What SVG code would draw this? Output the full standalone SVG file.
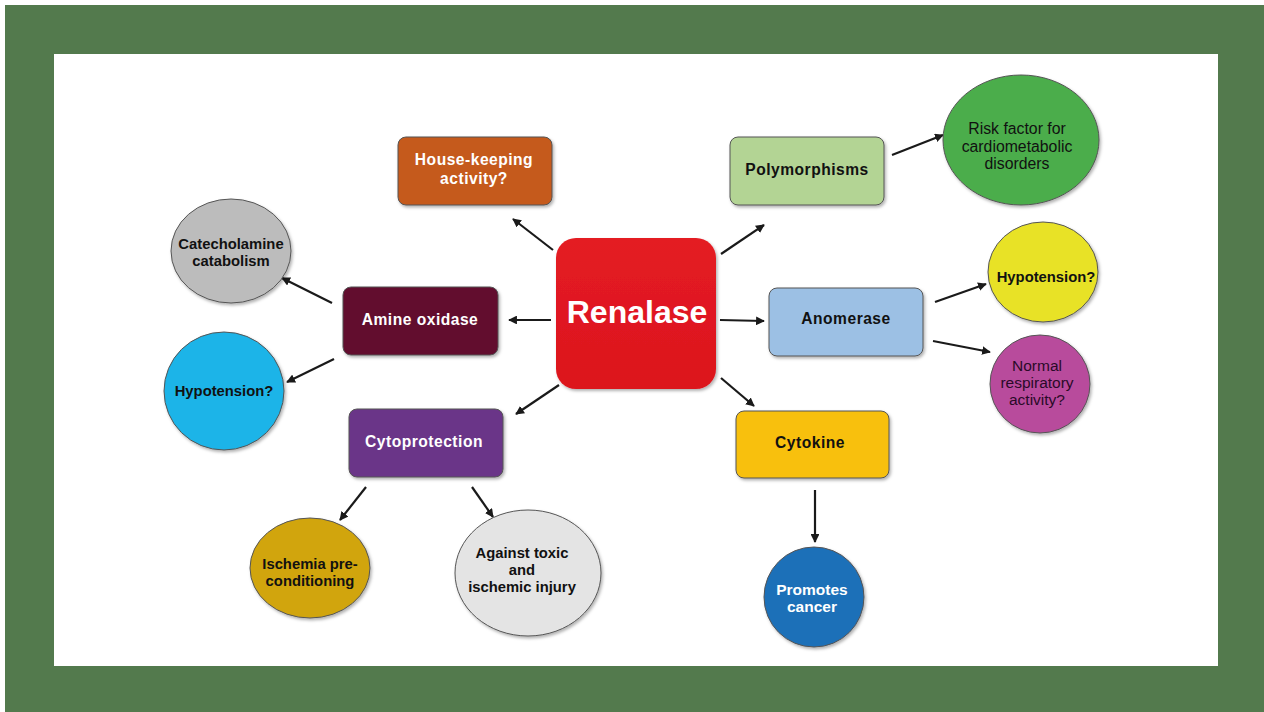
<svg xmlns="http://www.w3.org/2000/svg" width="1264" height="712" viewBox="0 0 1264 712">
<defs>
<style>
.t{font-family:"Liberation Sans",Arial,sans-serif;font-weight:bold;font-size:14.8px;text-anchor:middle}
.b{font-size:15.6px;letter-spacing:0.5px}
.w{fill:#ffffff}
.k{fill:#111111}
.box{stroke:#555;stroke-width:1}
.conn line{stroke:#1a1a1a;stroke-width:2.2;marker-end:url(#ah)}
</style>
<marker id="ah" viewBox="0 0 10 10" refX="9" refY="5" markerWidth="4" markerHeight="4" orient="auto" markerUnits="strokeWidth">
<path d="M0,0 L10,5 L0,10 z" fill="#1a1a1a"/>
</marker>
<filter id="sh" x="-10%" y="-10%" width="125%" height="125%">
<feDropShadow dx="1.5" dy="2" stdDeviation="1.5" flood-color="#000" flood-opacity="0.3"/>
</filter>
<linearGradient id="rg" x1="0" y1="0" x2="0" y2="1">
<stop offset="0" stop-color="#e41c24"/><stop offset="1" stop-color="#dc141d"/>
</linearGradient>
</defs>
<rect x="0" y="0" width="1264" height="712" fill="#ffffff"/>
<rect x="5" y="5" width="1259" height="707" fill="#537a4d"/>
<rect x="54" y="54" width="1164" height="612" fill="#ffffff"/>

<g class="conn">
<line x1="553" y1="250" x2="513" y2="219"/>
<line x1="721" y1="254" x2="764" y2="225"/>
<line x1="892" y1="155" x2="943" y2="135"/>
<line x1="551" y1="320" x2="509" y2="320"/>
<line x1="332" y1="303" x2="282" y2="278"/>
<line x1="334" y1="359" x2="287" y2="382"/>
<line x1="559" y1="385" x2="516" y2="414"/>
<line x1="366" y1="487" x2="340" y2="520"/>
<line x1="472" y1="487" x2="493" y2="517"/>
<line x1="720" y1="320" x2="764" y2="321"/>
<line x1="935" y1="302" x2="986" y2="284"/>
<line x1="933" y1="341" x2="990" y2="352"/>
<line x1="721" y1="378" x2="754" y2="406"/>
<line x1="815" y1="490" x2="815" y2="542"/>
</g>

<g id="renalase">
<rect x="556" y="238" width="160" height="151" rx="20" fill="url(#rg)" filter="url(#sh)"/>
<text class="t w" x="637" y="323" style="font-size:32px">Renalase</text>
</g>
<g id="housekeeping">
<rect class="box" x="398" y="137" width="154" height="68" rx="8" fill="#c55a1a" filter="url(#sh)"/>
<text class="t w b" x="474" y="165">House-keeping</text>
<text class="t w b" x="474" y="184">activity?</text>
</g>
<g id="polymorphisms">
<rect class="box" x="730" y="137" width="154" height="68" rx="8" fill="#b3d494" filter="url(#sh)"/>
<text class="t k b" x="807" y="175">Polymorphisms</text>
</g>
<g id="riskfactor">
<ellipse class="box" cx="1021" cy="140" rx="78" ry="65" fill="#4cad4c" filter="url(#sh)"/>
<text class="t k" x="1017" y="134" style="font-weight:normal;font-size:15.8px">Risk factor for</text>
<text class="t k" x="1017" y="152" style="font-weight:normal;font-size:15.8px">cardiometabolic</text>
<text class="t k" x="1017" y="169" style="font-weight:normal;font-size:15.8px">disorders</text>
</g>
<g id="catecholamine">
<ellipse class="box" cx="231" cy="251" rx="60" ry="52" fill="#bcbcbc" filter="url(#sh)"/>
<text class="t k" x="231" y="249">Catecholamine</text>
<text class="t k" x="231" y="266">catabolism</text>
</g>
<g id="amineoxidase">
<rect class="box" x="343" y="287" width="155" height="68" rx="8" fill="#620a2e" filter="url(#sh)"/>
<text class="t w b" x="420" y="325">Amine oxidase</text>
</g>
<g id="hypotension-blue">
<ellipse class="box" cx="224" cy="391" rx="60" ry="59" fill="#1ab4e8" filter="url(#sh)"/>
<text class="t k" x="224" y="396">Hypotension?</text>
</g>
<g id="cytoprotection">
<rect class="box" x="349" y="409" width="154" height="68" rx="8" fill="#6a3488" filter="url(#sh)"/>
<text class="t w b" x="424" y="447">Cytoprotection</text>
</g>
<g id="ischemia">
<ellipse class="box" cx="310" cy="568" rx="60" ry="50" fill="#d1a50d" filter="url(#sh)"/>
<text class="t k" x="310" y="569">Ischemia pre-</text>
<text class="t k" x="310" y="586">conditioning</text>
</g>
<g id="against">
<ellipse class="box" cx="528" cy="573" rx="73" ry="63" fill="#e4e4e4" filter="url(#sh)"/>
<text class="t k" x="522" y="558">Against toxic</text>
<text class="t k" x="522" y="575">and</text>
<text class="t k" x="522" y="592">ischemic injury</text>
</g>
<g id="anomerase">
<rect class="box" x="769" y="288" width="154" height="68" rx="8" fill="#9cc0e4" filter="url(#sh)"/>
<text class="t k b" x="846" y="324">Anomerase</text>
</g>
<g id="hypotension-yellow">
<ellipse class="box" cx="1043" cy="272" rx="55" ry="50" fill="#e8e228" filter="url(#sh)"/>
<text class="t k" x="1046" y="282">Hypotension?</text>
</g>
<g id="normal">
<ellipse class="box" cx="1040" cy="384" rx="50" ry="49" fill="#b84c9c" filter="url(#sh)"/>
<text class="t" x="1037" y="371" fill="#2a0a28" style="font-weight:normal;font-size:15.5px">Normal</text>
<text class="t" x="1037" y="388" fill="#2a0a28" style="font-weight:normal;font-size:15.5px">respiratory</text>
<text class="t" x="1037" y="405" fill="#2a0a28" style="font-weight:normal;font-size:15.5px">activity?</text>
</g>
<g id="cytokine">
<rect class="box" x="736" y="411" width="153" height="67" rx="8" fill="#f8c010" filter="url(#sh)"/>
<text class="t k b" x="810" y="448">Cytokine</text>
</g>
<g id="promotes">
<ellipse class="box" cx="814" cy="597" rx="50" ry="50" fill="#1e6fb8" filter="url(#sh)"/>
<text class="t w" x="812" y="595" style="font-size:15.5px">Promotes</text>
<text class="t w" x="812" y="612" style="font-size:15.5px">cancer</text>
</g>
</svg>
